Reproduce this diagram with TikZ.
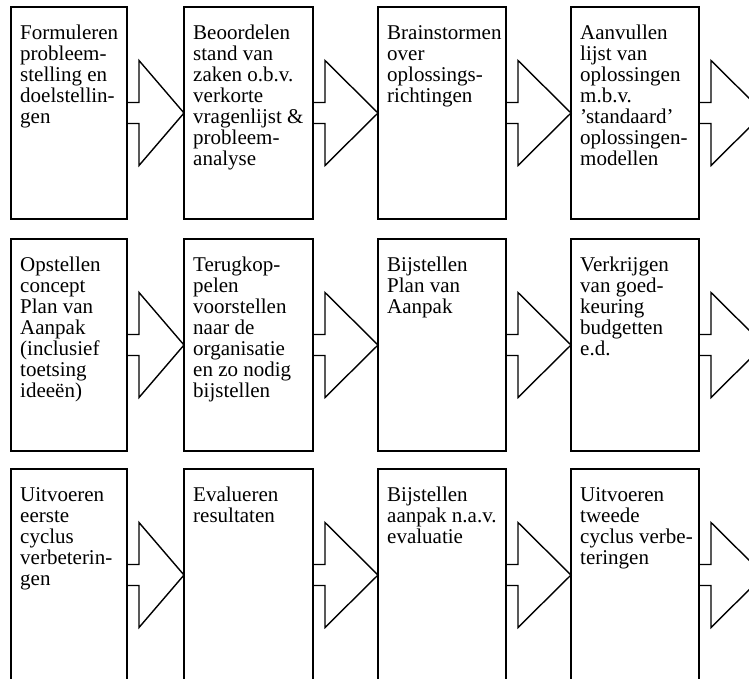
\documentclass[tikz,border=0pt]{standalone}
\usepackage{fontspec}
\setmainfont{Liberation Serif}
\usetikzlibrary{calc}
\tikzset{
  stepbox/.style={draw, line width=1.4pt, rectangle, anchor=north west,
    inner sep=0pt, outer sep=0pt, minimum height=212pt},
  boxtext/.style={anchor=north west, inner sep=0pt, align=left,
    font={\fontsize{21}{21}\selectfont\lineskiplimit=-20pt}},
  flow/.style={draw, line width=1.4pt, line join=miter}
}
% block arrow from the right side of box #1 to the point #2
\newcommand\flowarrow[2]{%
  \draw[flow] ($(#1.east)+(0,-10.5)$) -- ++(12,0) -- ++(0,-42) -- (#2)
    -- ($(#1.east)+(12,52.5)$) -- ++(0,-42) -- ($(#1.east)+(0,10.5)$);}
\begin{document}
\begin{tikzpicture}[x=1pt,y=-1pt]
\path[use as bounding box] (0,0) rectangle (749,678);
\clip (0,0) rectangle (749,678);

% the twelve step boxes
\foreach \c/\x/\w in {1/11/116, 2/184/129, 3/378/128, 4/571/128}
  \foreach \r/\y in {1/7, 2/239, 3/469}
    \node[stepbox, minimum width=\w pt] (b\r\c) at (\x,\y) {};

% row 1
\node[boxtext] (t11) at ($(b11.north west)+(9,17.5)$) {\strut Formuleren\\probleem-\\stelling en\\doelstellin-\\gen};
\node[boxtext] (t12) at ($(b12.north west)+(9,17.5)$) {\strut Beoordelen\\stand van\\zaken o.b.v.\\verkorte\\vragenlijst \&\\probleem-\\analyse};
\node[boxtext] (t13) at ($(b13.north west)+(9,17.5)$) {\strut Brainstormen\\over\\oplossings-\\richtingen};
\node[boxtext] (t14) at ($(b14.north west)+(9,17.5)$) {\strut Aanvullen\\lijst van\\oplossingen\\m.b.v.\\’standaard’\\oplossingen-\\modellen};

% row 2
\node[boxtext] (t21) at ($(b21.north west)+(9,17.5)$) {\strut Opstellen\\concept\\Plan van\\Aanpak\\(inclusief\\toetsing\\ideeën)};
\node[boxtext] (t22) at ($(b22.north west)+(9,17.5)$) {\strut Terugkop-\\pelen\\voorstellen\\naar de\\organisatie\\en zo nodig\\bijstellen};
\node[boxtext] (t23) at ($(b23.north west)+(9,17.5)$) {\strut Bijstellen\\Plan van\\Aanpak};
\node[boxtext] (t24) at ($(b24.north west)+(9,17.5)$) {\strut Verkrijgen\\van goed-\\keuring\\budgetten\\e.d.};

% row 3
\node[boxtext] (t31) at ($(b31.north west)+(9,17.5)$) {\strut Uitvoeren\\eerste\\cyclus\\verbeterin-\\gen};
\node[boxtext] (t32) at ($(b32.north west)+(9,17.5)$) {\strut Evalueren\\resultaten};
\node[boxtext] (t33) at ($(b33.north west)+(9,17.5)$) {\strut Bijstellen\\aanpak n.a.v.\\evaluatie};
\node[boxtext] (t34) at ($(b34.north west)+(9,17.5)$) {\strut Uitvoeren\\tweede\\cyclus verbe-\\teringen};

% arrow tips leaving the last column
\foreach \r in {1,2,3}
  \coordinate (e\r) at ($(b\r4.east)+(65,0)$);

% block arrows between the steps
\foreach \r in {1,2,3}{
  \flowarrow{b\r1}{b\r2.west}
  \flowarrow{b\r2}{b\r3.west}
  \flowarrow{b\r3}{b\r4.west}
  \flowarrow{b\r4}{e\r}
}
\end{tikzpicture}
\end{document}
